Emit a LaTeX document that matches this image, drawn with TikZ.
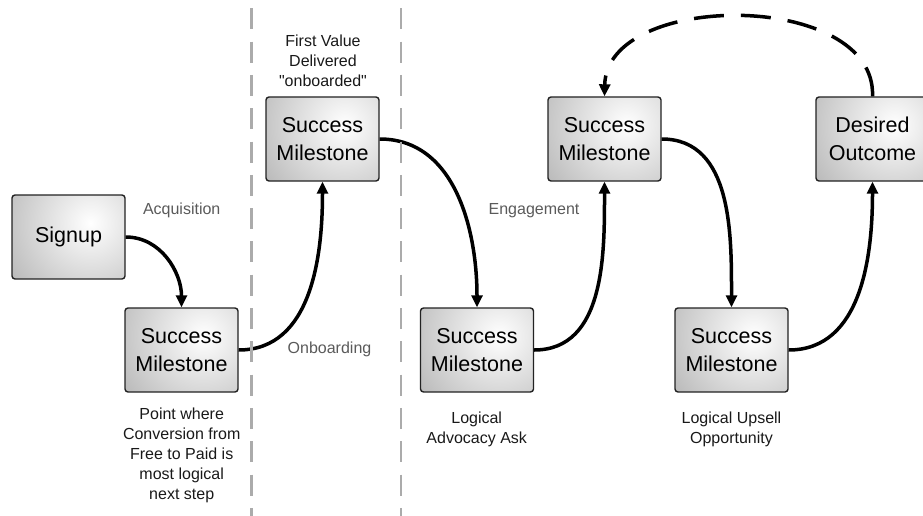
\documentclass[tikz,border=0pt]{standalone}
\usepackage{fontspec}
\setmainfont{Liberation Sans}
\usetikzlibrary{arrows.meta}

\definecolor{boxshade}{HTML}{9E9E9E}
\definecolor{boxline}{HTML}{222222}
\definecolor{phasegray}{HTML}{5A5A5A}
\definecolor{dividergray}{HTML}{ABABAB}

\tikzset{
  milestone/.style={
    draw=boxline, line width=1.4pt, rounded corners=3pt,
    minimum width=113pt, minimum height=84pt, inner sep=0pt,
    align=center, font=\fontsize{21.5}{27.5}\selectfont,
    path picture={
      \shade[inner color=white, outer color=boxshade]
        ([xshift=22pt,yshift=14pt]path picture bounding box.center) circle (135pt);
    }
  },
  flow/.style={line width=3.5pt, -{Triangle[length=12pt,width=11pt]}},
  loopback/.style={flow, dash pattern=on 30pt off 17pt},
  phase/.style={text=phasegray, font=\fontsize{16}{20}\selectfont, inner sep=0pt, anchor=base},
  note/.style={align=center, text=black!90, font=\fontsize{16}{20}\selectfont, inner sep=0pt},
  divider/.style={draw=dividergray, line width=2.5pt, dash pattern=on 21pt off 12.3pt}
}

\begin{document}
\begin{tikzpicture}[x=1pt,y=1pt]
  \path[use as bounding box, clip] (0,0) rectangle (923,-516);

  % boxes
  \node[milestone] (signup) at (68.5,-237)  {Signup};
  \node[milestone] (m1)     at (181.5,-350) {Success\\Milestone};
  \node[milestone] (m2)     at (322.5,-139) {Success\\Milestone};
  \node[milestone] (m3)     at (477,-350)   {Success\\Milestone};
  \node[milestone] (m4)     at (604.5,-139) {Success\\Milestone};
  \node[milestone] (m5)     at (731.5,-350) {Success\\Milestone};
  \node[milestone] (goal)   at (872.5,-139) {Desired\\Outcome};

  % phase labels
  \node[phase] (acq) at (181.7,-214.3) {Acquisition};
  \node[phase] (onb) at (329.5,-353)   {Onboarding};
  \node[phase] (eng) at (534,-214.5)   {Engagement};

  % notes
  \node[note] (firstvalue) at (323,-60.5)  {First Value\\Delivered\\\textquotedbl onboarded\textquotedbl};
  \node[note] (convert)    at (181.7,-455) {Point where\\Conversion from\\Free to Paid is\\most logical\\next step};
  \node[note] (advocacy)   at (476.7,-429) {Logical\\Advocacy Ask};
  \node[note] (upsell)     at (731.5,-429) {Logical Upsell\\Opportunity};

  % flow
  \draw[flow] (signup.east) to[out=0,in=90]  (m1.north);
  \draw[flow] (m1.east)     to[out=0,in=-90] (m2.south);
  \draw[flow] (m2.east)     to[out=0,in=90]  (m3.north);
  \draw[flow] (m3.east)     to[out=0,in=-90] (m4.south);
  \draw[flow] (m4.east)     to[out=0,in=90]  (m5.north);
  \draw[flow] (m5.east)     to[out=0,in=-90] (goal.south);
  \draw[loopback] (goal.north) .. controls +(4,106) and +(2,106) .. (m4.north);

  % phase dividers
  \draw[divider] (251.7,-8.3) -- (251.7,-516);
  \draw[divider] (401,-8.3) -- (401,-516);
\end{tikzpicture}
\end{document}
